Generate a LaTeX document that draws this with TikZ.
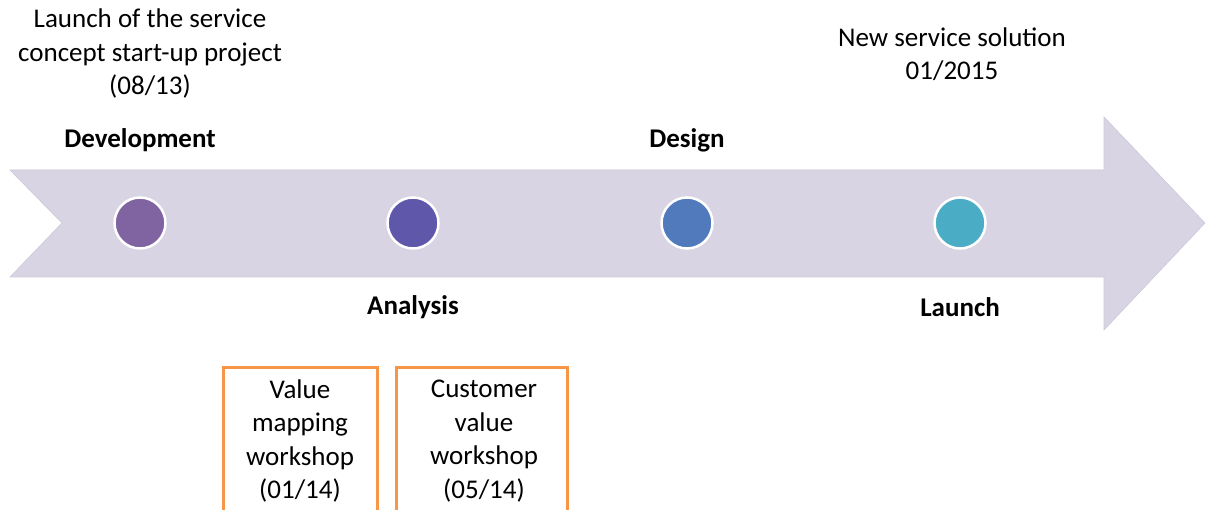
\documentclass[tikz,border=0pt]{standalone}
\usepackage{fontspec}
\setmainfont{Carlito}
\definecolor{arrowfill}{RGB}{216,212,227}
\definecolor{arrowline}{RGB}{205,201,218}
\definecolor{c1}{RGB}{128,100,162}
\definecolor{c2}{RGB}{95,88,170}
\definecolor{c3}{RGB}{80,122,187}
\definecolor{c4}{RGB}{75,172,198}
\definecolor{boxorange}{RGB}{247,150,70}
\begin{document}
\begin{tikzpicture}[x=1pt,y=-1pt,
  dot/.style={circle,draw=white,line width=2.5pt,minimum size=51pt,inner sep=0pt},
  lbl/.style={font=\fontsize{27}{33.5}\selectfont,align=center,inner sep=0pt},
  blbl/.style={font=\fontsize{27}{33.5}\selectfont\bfseries,inner sep=0pt},
  wbox/.style={draw=boxorange,line width=3pt,fill=white}]
\useasboundingbox (0,0) rectangle (1205,510);
\clip (0,0) rectangle (1205,510);
% arrow
\draw[fill=arrowfill,draw=arrowline,line width=0.6pt]
  (10,170) -- (1104,170) -- (1104,117) -- (1205,223) -- (1104,330) -- (1104,277)
  -- (10,277) -- (62,223) -- cycle;
% dots
\node[dot,fill=c1] (d1) at (140,223) {};
\node[dot,fill=c2] (d2) at (413,223) {};
\node[dot,fill=c3] (d3) at (687,223) {};
\node[dot,fill=c4] (d4) at (960,223) {};
% labels
\node[blbl] (dev) at (140,140) {Development};
\node[blbl] (ana) at (413,307) {Analysis};
\node[blbl] (des) at (687,140) {Design};
\node[blbl] (lau) at (960,307) {Launch};
\node[lbl] (start) at (150,54) {Launch of the service\\concept start-up project\\(08/13)};
\node[lbl] (new) at (952,54) {New service solution\\01/2015};
% boxes
\draw[wbox] (223,368) rectangle (377,530);
\draw[wbox] (396,368) rectangle (567,530);
\node[lbl] (b1) at (300,441) {Value\\mapping\\workshop\\(01/14)};
\node[lbl] (b2) at (484,441) {Customer\\value\\workshop\\(05/14)};
\end{tikzpicture}
\end{document}
